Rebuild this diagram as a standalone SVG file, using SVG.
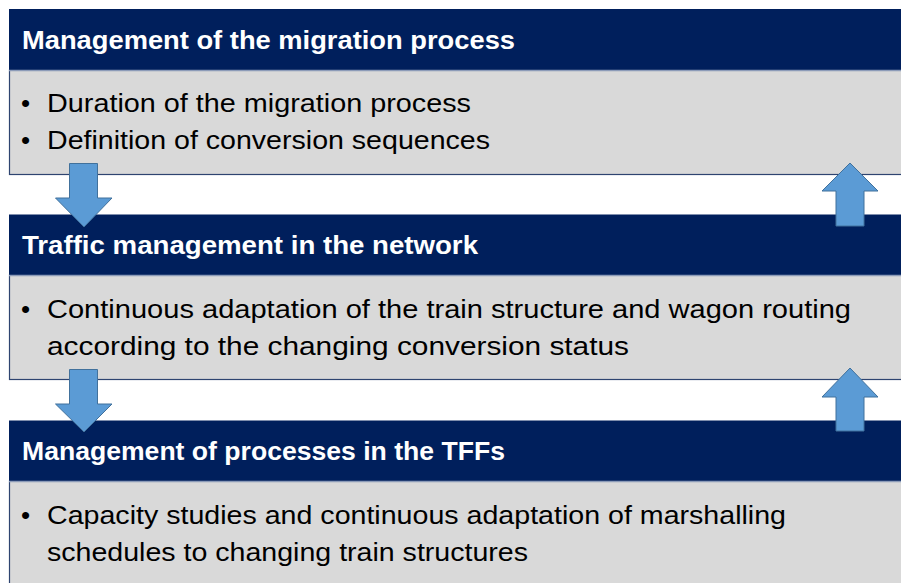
<svg xmlns="http://www.w3.org/2000/svg" width="901" height="583" viewBox="0 0 901 583">
<style>
.hdr{fill:#001F5C}
.body{fill:#D9D9D9;stroke:#2E4470;stroke-width:1.2}
.sep{stroke:#8C9BB8;stroke-width:1.5}
.ht{font-family:"Liberation Sans",Arial,sans-serif;font-weight:bold;font-size:25.5px;fill:#FFFFFF}
.bt{font-family:"Liberation Sans",Arial,sans-serif;font-size:26px;fill:#000000}
.arrow{fill:#5B9BD5;stroke:#41719C;stroke-width:1}
</style>
<rect width="901" height="583" fill="#FFFFFF"/>
<g id="box1">
<rect class="body" x="9.5" y="70" width="893" height="104.5"/>
<rect class="hdr" x="9" y="9" width="892" height="61"/>
<line class="sep" x1="9" y1="70.5" x2="901" y2="70.5"/>
<text class="ht" x="22" y="49" textLength="493" lengthAdjust="spacingAndGlyphs">Management of the migration process</text>
<text class="bt" x="21" y="112">•</text>
<text class="bt" x="47" y="112" textLength="424" lengthAdjust="spacingAndGlyphs">Duration of the migration process</text>
<text class="bt" x="21" y="149">•</text>
<text class="bt" x="47" y="149" textLength="443" lengthAdjust="spacingAndGlyphs">Definition of conversion sequences</text>
</g>
<g id="box2">
<rect class="body" x="9.5" y="275" width="893" height="104.5"/>
<rect class="hdr" x="9" y="214.5" width="892" height="61"/>
<line class="sep" x1="9" y1="275.5" x2="901" y2="275.5"/>
<text class="ht" x="22" y="254" textLength="456" lengthAdjust="spacingAndGlyphs">Traffic management in the network</text>
<text class="bt" x="21" y="318">•</text>
<text class="bt" x="47" y="318" textLength="804" lengthAdjust="spacingAndGlyphs">Continuous adaptation of the train structure and wagon routing</text>
<text class="bt" x="47" y="355" textLength="582" lengthAdjust="spacingAndGlyphs">according to the changing conversion status</text>
</g>
<g id="box3">
<rect class="body" x="9.5" y="481" width="893" height="110"/>
<rect class="hdr" x="9" y="420.5" width="892" height="61"/>
<line class="sep" x1="9" y1="481.5" x2="901" y2="481.5"/>
<text class="ht" x="22" y="460" textLength="483" lengthAdjust="spacingAndGlyphs">Management of processes in the TFFs</text>
<text class="bt" x="21" y="524">•</text>
<text class="bt" x="47" y="524" textLength="739" lengthAdjust="spacingAndGlyphs">Capacity studies and continuous adaptation of marshalling</text>
<text class="bt" x="47" y="561" textLength="481" lengthAdjust="spacingAndGlyphs">schedules to changing train structures</text>
</g>
<g id="connectors">
<polygon class="arrow" points="69.5,163.5 97.5,163.5 97.5,198 112,198 84,227 55.5,198 69.5,198"/>
<polygon class="arrow" points="69.5,369.5 97.5,369.5 97.5,404 112,404 84,432 55.5,404 69.5,404"/>
<polygon class="arrow" points="850,163 878,191 864,191 864,226 836,226 836,191 822,191"/>
<polygon class="arrow" points="850,368 878,397 864,397 864,431 836,431 836,397 822,397"/>
</g>
</svg>
